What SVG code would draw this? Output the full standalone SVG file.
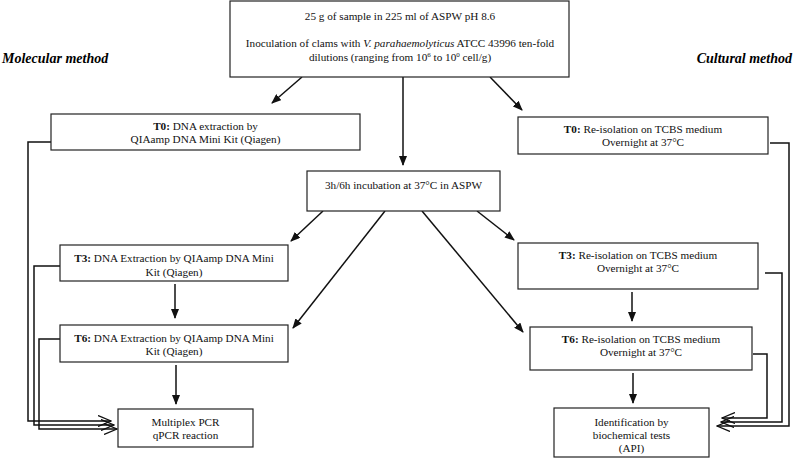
<svg xmlns="http://www.w3.org/2000/svg" width="793" height="458" viewBox="0 0 793 458">
<defs>
<style>
.box{fill:#fff;stroke:#222;stroke-width:1.2}
.t{font-family:"Liberation Serif","Times New Roman",serif;font-size:11.2px;fill:#111;text-anchor:middle}
.h{font-family:"Liberation Serif","Times New Roman",serif;font-size:14px;font-weight:bold;font-style:italic;fill:#000}
.a{fill:none;stroke:#111;stroke-width:1.5;marker-end:url(#fa)}
.c{fill:none;stroke:#111;stroke-width:1.5;marker-end:url(#oa)}
</style>
<marker id="fa" markerWidth="10" markerHeight="8" refX="9" refY="4" orient="auto" markerUnits="userSpaceOnUse">
<path d="M0,0 L10,4 L0,8 z" fill="#111"/>
</marker>
<marker id="oa" markerWidth="14" markerHeight="12" refX="13" refY="6" orient="auto" markerUnits="userSpaceOnUse">
<path d="M0,0.5 L13,6 L0,11.5" fill="none" stroke="#111" stroke-width="1.3"/>
</marker>
</defs>
<rect width="793" height="458" fill="#fff"/>

<text class="h" x="2" y="63">Molecular method</text>
<text class="h" x="792" y="63" text-anchor="end">Cultural method</text>

<g id="connectors">
<path class="a" d="M302,77 L272,103"/>
<path class="a" d="M403,77 L403,165"/>
<path class="a" d="M490,77 L522,110"/>
<path class="a" d="M323,211 L291,241"/>
<path class="a" d="M385,211 L293,328"/>
<path class="a" d="M422,211 L523,332"/>
<path class="a" d="M477,211 L514,240"/>
<path class="a" d="M175,284 L175,318"/>
<path class="a" d="M176,365 L176,404"/>
<path class="a" d="M632,292 L632,321"/>
<path class="a" d="M633,373 L633,403"/>
<path class="c" d="M51,142 H28 V421 H111"/>
<path class="c" d="M60,266 H34 V425 H114"/>
<path class="c" d="M60,339 H39 V429 H117"/>
<path class="c" d="M770,143 H789 V426 H717"/>
<path class="c" d="M765,273 H782 V422 H721"/>
<path class="c" d="M753,354 H767 V418 H722"/>
</g>

<g id="start">
<rect class="box" x="230" y="1" width="339" height="76"/>
<text class="t" x="400" y="20">25 g of sample in 225 ml of ASPW pH 8.6</text>
<text class="t" x="400" y="47">Inoculation of clams with <tspan font-style="italic">V. parahaemolyticus</tspan> ATCC 43996 ten-fold</text>
<text class="t" x="400" y="61">dilutions (ranging from 10<tspan font-size="7" dy="-4">6</tspan><tspan dy="4"> to 10</tspan><tspan font-size="7" dy="-4">0</tspan><tspan dy="4"> cell/g)</tspan></text>
</g>

<g id="t0-mol">
<rect class="box" x="51" y="114" width="309" height="36"/>
<text class="t" x="205.5" y="130"><tspan font-weight="bold">T0:</tspan> DNA extraction by</text>
<text class="t" x="205.5" y="143">QIAamp DNA Mini Kit (Qiagen)</text>
</g>

<g id="t0-cult">
<rect class="box" x="518" y="117" width="250" height="37"/>
<text class="t" x="643" y="133"><tspan font-weight="bold">T0:</tspan> Re-isolation on TCBS medium</text>
<text class="t" x="643" y="146">Overnight at 37°C</text>
</g>

<g id="incubation">
<rect class="box" x="307" y="171" width="193" height="40"/>
<text class="t" x="403.5" y="189">3h/6h incubation at 37°C in ASPW</text>
</g>

<g id="t3-mol">
<rect class="box" x="60" y="245" width="228" height="36"/>
<text class="t" x="174" y="262"><tspan font-weight="bold">T3:</tspan> DNA Extraction by QIAamp DNA Mini</text>
<text class="t" x="174" y="276">Kit (Qiagen)</text>
</g>

<g id="t6-mol">
<rect class="box" x="60" y="325" width="228" height="37"/>
<text class="t" x="174" y="342"><tspan font-weight="bold">T6:</tspan> DNA Extraction by QIAamp DNA Mini</text>
<text class="t" x="174" y="355">Kit (Qiagen)</text>
</g>

<g id="pcr">
<rect class="box" x="118" y="409" width="135" height="38"/>
<text class="t" x="185.5" y="426">Multiplex PCR</text>
<text class="t" x="185.5" y="439">qPCR reaction</text>
</g>

<g id="t3-cult">
<rect class="box" x="518" y="243" width="240" height="46"/>
<text class="t" x="638" y="259"><tspan font-weight="bold">T3:</tspan> Re-isolation on TCBS medium</text>
<text class="t" x="638" y="272">Overnight at 37°C</text>
</g>

<g id="t6-cult">
<rect class="box" x="530" y="327" width="222" height="43"/>
<text class="t" x="641" y="343"><tspan font-weight="bold">T6:</tspan> Re-isolation on TCBS medium</text>
<text class="t" x="641" y="356">Overnight at 37°C</text>
</g>

<g id="ident">
<rect class="box" x="554" y="408" width="155" height="49"/>
<text class="t" x="631.5" y="426">Identification by</text>
<text class="t" x="631.5" y="439">biochemical tests</text>
<text class="t" x="631.5" y="452">(API)</text>
</g>
</svg>
